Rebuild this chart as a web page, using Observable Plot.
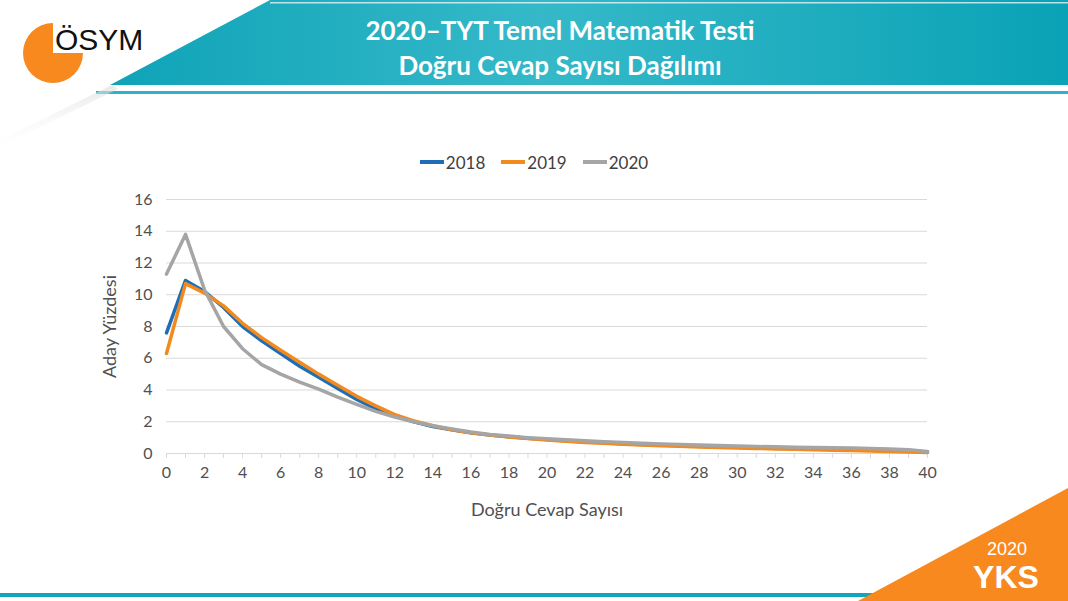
<!DOCTYPE html>
<html>
<head>
<meta charset="utf-8">
<script src="https://cdn.jsdelivr.net/npm/d3@7"></script>
<script src="https://cdn.jsdelivr.net/npm/@observablehq/plot@0.6"></script>
<style>
  html, body { margin: 0; padding: 0; background: #fff; }
  #page { position: relative; width: 1068px; height: 601px; overflow: hidden; background: #fff; font-family: "Open Sans", "Noto Sans", sans-serif; }
  #deco { position: absolute; left: 0; top: 0; }
  .title { position: absolute; left: 260px; width: 600px; text-align: center; color: #fff; font-family: "Lato", "Open Sans", sans-serif; font-weight: 700; font-size: 26px; line-height: 36px; }
  #legend { position: absolute; top: 147px; left: 0; width: 1068px; text-align: center; font-size: 17px; color: #404040; font-family: "Lato", "Open Sans", sans-serif; }
  #legend span.item { display: inline-flex; align-items: center; margin: 0 8px; }
  #legend span.sw { display: inline-block; width: 24px; height: 4px; margin-right: 2px; }
  #chart { position: absolute; left: 90px; top: 185px; }
</style>
</head>
<body>
<div id="page">
  <svg id="deco" width="1068" height="601">
    <defs>
      <linearGradient id="tealg" x1="0" y1="0" x2="1" y2="0">
        <stop offset="0" stop-color="#0fa3b8"/>
        <stop offset="0.45" stop-color="#35b9c9"/>
        <stop offset="1" stop-color="#0aa2b6"/>
      </linearGradient>
      <linearGradient id="shadow" x1="0" y1="0" x2="0.3" y2="1">
        <stop offset="0" stop-color="#d0d0d0"/>
        <stop offset="1" stop-color="#ffffff" stop-opacity="0"/>
      </linearGradient>
    </defs>
    <polygon points="270,0 1068,0 1068,85 110,85" fill="url(#tealg)"/>
    <rect x="270" y="2" width="798" height="1.5" fill="#ffffff" opacity="0.7"/>
    <rect x="96" y="91" width="972" height="3" fill="#2fb2c4"/>
    <polygon points="112,85 0,140 0,147 118,89" fill="url(#shadow)" opacity="0.9"/>
    <circle cx="53" cy="53" r="30" fill="#f7891f"/>
    <rect x="53" y="20" width="34" height="33" fill="#fff"/>
    <text x="55" y="50" font-family="Liberation Sans, Arial, sans-serif" font-size="30" fill="#111">ÖSYM</text>
    <rect x="0" y="593" width="1068" height="4" fill="#13a6ba"/>
    <polygon points="1068,488 1068,601 858,601" fill="#f7891f"/>
    <text x="1007" y="555" text-anchor="middle" font-family="Liberation Sans, Arial, sans-serif" font-size="18" fill="#fff">2020</text>
    <text x="1006" y="588" text-anchor="middle" font-family="Liberation Sans, Arial, sans-serif" font-size="32" font-weight="bold" fill="#fff">YKS</text>
  </svg>
  <div class="title" style="top:12px;">2020–TYT Temel Matematik Testi</div>
  <div class="title" style="top:47px;">Doğru Cevap Sayısı Dağılımı</div>
  <div id="legend"></div>
  <div id="chart"></div>
</div>
<script>
const correct = d3.range(0, 41);
const years = ["2018", "2019", "2020"];
const colors = ["#1f6db5", "#f28a1e", "#a5a5a5"];
const v2018 = [7.6, 10.9, 10.2, 9.2, 8.0, 7.1, 6.3, 5.5, 4.8, 4.1, 3.4, 2.8, 2.35, 2.0, 1.7, 1.5, 1.3, 1.17, 1.06, 0.96, 0.88, 0.81, 0.74, 0.68, 0.62, 0.57, 0.53, 0.49, 0.45, 0.42, 0.39, 0.36, 0.34, 0.31, 0.29, 0.26, 0.24, 0.21, 0.18, 0.14, 0.09];
const v2019 = [6.3, 10.7, 10.1, 9.3, 8.2, 7.3, 6.5, 5.75, 5.0, 4.3, 3.6, 3.0, 2.45, 2.05, 1.75, 1.5, 1.3, 1.16, 1.04, 0.94, 0.85, 0.77, 0.70, 0.64, 0.58, 0.53, 0.49, 0.45, 0.41, 0.38, 0.35, 0.32, 0.29, 0.27, 0.24, 0.21, 0.19, 0.16, 0.13, 0.10, 0.06];
const v2020 = [11.3, 13.8, 10.3, 8.0, 6.6, 5.6, 5.0, 4.5, 4.05, 3.55, 3.1, 2.65, 2.3, 2.0, 1.75, 1.55, 1.35, 1.2, 1.1, 1.0, 0.93, 0.86, 0.80, 0.74, 0.69, 0.64, 0.60, 0.56, 0.53, 0.50, 0.47, 0.44, 0.42, 0.40, 0.38, 0.36, 0.34, 0.32, 0.29, 0.24, 0.13];
const xTicks = d3.range(0, 41, 2);
const yTicks = d3.range(0, 17, 2);
const xLabel = "Doğru Cevap Sayısı";
const yLabel = "Aday Yüzdesi";

const series = [v2018, v2019, v2020];
const data = [];
years.forEach((y, i) => correct.forEach((c, j) => data.push({year: y, x: c, v: series[i][j]})));

const legend = document.getElementById("legend");
years.forEach((y, i) => {
  const s = document.createElement("span");
  s.className = "item";
  s.innerHTML = `<span class="sw" style="background:${colors[i]}"></span>${y}`;
  legend.appendChild(s);
});

const chart = Plot.plot({
  width: 860,
  height: 340,
  marginLeft: 76,
  marginRight: 23,
  marginTop: 14,
  marginBottom: 72,
  style: {fontFamily: "Lato, 'Open Sans', sans-serif", fontSize: "16px", color: "#505050"},
  x: {domain: [0, 40]},
  y: {domain: [0, 16]},
  color: {domain: years, range: colors},
  marks: [
    Plot.gridY(yTicks, {stroke: "#d9d9d9", strokeOpacity: 1, strokeWidth: 1}),
    Plot.axisY(yTicks, {tickSize: 0, tickPadding: 14, fontSize: 16, label: null}),
    Plot.axisX(correct, {tickSize: 5, stroke: "#d9d9d9", tickFormat: d => d % 2 === 0 ? d : "", tickPadding: 8, fontSize: 16, label: null}),
    Plot.text([xLabel], {frameAnchor: "bottom", textAnchor: "middle", dy: 62, fontSize: 18, fill: "#505050"}),
    Plot.text([yLabel], {frameAnchor: "left", textAnchor: "middle", dx: -56, rotate: -90, fontSize: 18, fill: "#505050"}),
    Plot.ruleY([0], {stroke: "#d9d9d9"}),
    Plot.line(data, {x: "x", y: "v", stroke: "year", strokeWidth: 3.5, curve: "linear"})
  ]
});
document.getElementById("chart").appendChild(chart);
</script>
</body>
</html>
